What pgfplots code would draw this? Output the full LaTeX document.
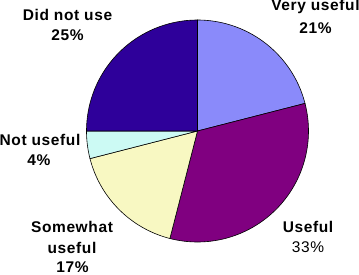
\documentclass[border=0pt]{standalone}
\usepackage{pgfplots}
\pgfplotsset{compat=1.18}
\usepackage{fontspec}
\setmainfont{Liberation Sans}[LetterSpace=4]
\definecolor{cVery}{RGB}{138,138,250}
\definecolor{cUseful}{RGB}{128,0,128}
\definecolor{cSome}{RGB}{248,248,194}
\definecolor{cNot}{RGB}{204,250,244}
\definecolor{cDid}{RGB}{46,0,154}
\tikzset{lab/.style={anchor=base, inner sep=0pt, font=\fontsize{15.5}{20}\selectfont\bfseries}}
\begin{document}
\begin{tikzpicture}
\begin{axis}[hide axis, scale only axis, width=359pt, height=274pt,
  xmin=0, xmax=359, ymin=0, ymax=274, clip=false]
% shares (percent): Very useful 21, Useful 33, Somewhat useful 17, Not useful 4, Did not use 25
% slices run clockwise from 12 o'clock, 3.6 degrees per percent
\addplot[draw=black, line width=0.6pt, fill=cVery, domain=14.4:90, samples=80]
  ({197.5+111*cos(x)}, {143+111*sin(x)}) -- (axis cs:197.5,143) -- cycle;
\addplot[draw=black, line width=0.6pt, fill=cUseful, domain=-104.4:14.4, samples=100]
  ({197.5+111*cos(x)}, {143+111*sin(x)}) -- (axis cs:197.5,143) -- cycle;
\addplot[draw=black, line width=0.6pt, fill=cSome, domain=-165.6:-104.4, samples=60]
  ({197.5+111*cos(x)}, {143+111*sin(x)}) -- (axis cs:197.5,143) -- cycle;
\addplot[draw=black, line width=0.6pt, fill=cNot, domain=-180:-165.6, samples=20]
  ({197.5+111*cos(x)}, {143+111*sin(x)}) -- (axis cs:197.5,143) -- cycle;
\addplot[draw=black, line width=0.6pt, fill=cDid, domain=-270:-180, samples=80]
  ({197.5+111*cos(x)}, {143+111*sin(x)}) -- (axis cs:197.5,143) -- cycle;
\node[lab] at (axis cs:67.5,254) {Did not use};
\node[lab] at (axis cs:67.5,233.3) {25\%};
\node[lab] at (axis cs:315.5,263.3) {Very useful};
\node[lab] at (axis cs:315.5,241) {21\%};
\node[lab] at (axis cs:40,129) {Not useful};
\node[lab] at (axis cs:39,109) {4\%};
\node[lab] at (axis cs:72,42) {Somewhat};
\node[lab] at (axis cs:72,21) {useful};
\node[lab] at (axis cs:72.5,2) {17\%};
\node[lab] at (axis cs:308,42) {Useful};
\node[lab, font=\fontsize{15.5}{20}\selectfont] at (axis cs:308,22) {33\%};
\end{axis}
\pgfresetboundingbox
\path[use as bounding box] (0,0) rectangle (359pt,274pt);
\end{tikzpicture}
\end{document}
